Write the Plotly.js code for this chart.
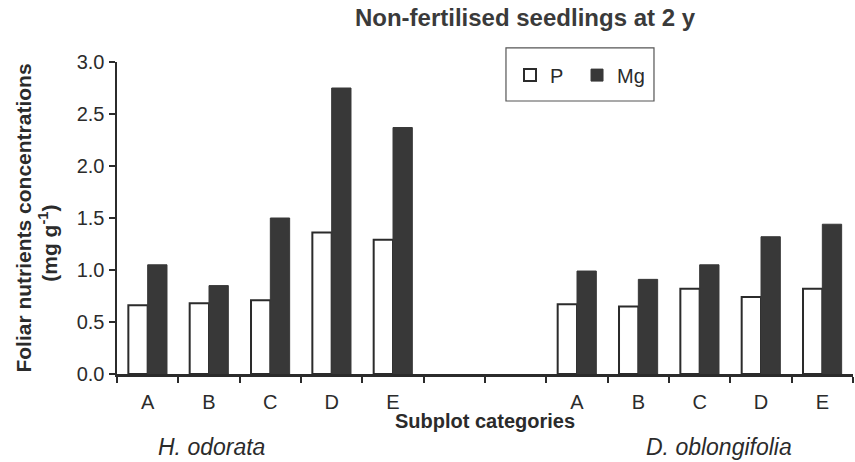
<!DOCTYPE html>
<html>
<head>
<meta charset="utf-8">
<script src="https://cdn.plot.ly/plotly-3.0.1.min.js"></script>
<style>html,body{margin:0;padding:0;background:#fff;}#chart{width:855px;height:462px;}</style>
</head>
<body>
<div id="chart"></div>
<script>
// Slots along the x axis: 5 subplots for each species, with a 2-slot gap between
const slotLabels = ["A","B","C","D","E","","","A","B","C","D","E"];
const pValues  = [0.66, 0.68, 0.71, 1.36, 1.29, null, null, 0.67, 0.65, 0.82, 0.74, 0.82];
const mgValues = [1.05, 0.85, 1.50, 2.75, 2.37, null, null, 0.99, 0.91, 1.05, 1.32, 1.44];
const speciesNames = ["<i>H. odorata</i>", "<i>D. oblongifolia</i>"];
const yTicks = [0, 0.5, 1.0, 1.5, 2.0, 2.5, 3.0];

const slotPos = slotLabels.map((_, i) => i);
const boundaries = slotLabels.map((_, i) => i - 0.5).concat([slotLabels.length - 0.5]);

const ink = "#2b2b2b";
const font = "Arial, 'Liberation Sans', Helvetica, sans-serif";

const traces = [
  {type: "bar", name: "P", x: slotPos, y: pValues,
   marker: {color: "#ffffff", line: {color: ink, width: 2}}},
  {type: "bar", name: "Mg", x: slotPos, y: mgValues,
   marker: {color: "#383838", line: {color: "#383838", width: 1}}}
];

const layout = {
  width: 855, height: 462,
  margin: {l: 117, r: 2, t: 62, b: 88},
  paper_bgcolor: "#fff", plot_bgcolor: "#fff",
  font: {family: font, color: ink},
  barmode: "group", bargap: 0.37, bargroupgap: 0,
  showlegend: true,
  title: {text: "<b>Non-fertilised seedlings at 2 y</b>", font: {size: 24, color: "#3a3a3a"},
          x: 0.614, xanchor: "center", y: 0.961, yanchor: "middle"},
  legend: {orientation: "h", x: 0.534, xanchor: "left", y: 0.958, yanchor: "middle",
           font: {size: 20, color: ink}, borderwidth: 0, bgcolor: "rgba(0,0,0,0)",
           entrywidth: 22, itemclick: false},
  xaxis: {range: [-0.5, 11.5], tickmode: "array", tickvals: slotPos, ticktext: slotLabels,
          ticks: "", tickfont: {size: 20, color: ink}, ticklabelstandoff: 8,
          minor: {tickmode: "array", tickvals: boundaries, ticks: "outside", ticklen: 6,
                  tickwidth: 2, tickcolor: ink, showgrid: false},
          showline: true, linecolor: ink, linewidth: 2.5, showgrid: false, zeroline: false,
          fixedrange: true},
  yaxis: {range: [0, 3], tickmode: "array", tickvals: yTicks, tickformat: ".1f",
          ticks: "outside", ticklen: 6, tickwidth: 2, tickcolor: ink,
          showline: true, linecolor: ink, linewidth: 2.5, showgrid: false, zeroline: false,
          tickfont: {size: 20, color: ink}, fixedrange: true,
          title: {text: "<b>Foliar nutrients concentrations</b>", font: {size: 21, color: ink}, standoff: 40}},
  shapes: [
    {type: "rect", xref: "paper", yref: "paper", x0: 0.5285, x1: 0.7296, y0: 0.875, y1: 1.045,
     line: {color: "#555", width: 1.2}, fillcolor: "rgba(0,0,0,0)"}
  ],
  annotations: [
    {text: "<b>Subplot categories</b>", xref: "paper", yref: "paper", x: 0.5, y: -0.15,
     showarrow: false, font: {size: 20, color: ink}, xanchor: "center", yanchor: "middle"},
    {text: "<b>(mg g<sup>-1</sup>)</b>", xref: "paper", yref: "paper", x: -0.094, y: 0.42,
     textangle: -90, showarrow: false, font: {size: 21, color: ink}, xanchor: "center", yanchor: "middle"},
    {text: speciesNames[0], xref: "paper", yref: "paper", x: 0.129, y: -0.234,
     showarrow: false, font: {size: 23, color: ink}, xanchor: "center", yanchor: "middle"},
    {text: speciesNames[1], xref: "paper", yref: "paper", x: 0.818, y: -0.234,
     showarrow: false, font: {size: 23, color: ink}, xanchor: "center", yanchor: "middle"}
  ]
};

Plotly.newPlot("chart", traces, layout, {displayModeBar: false, staticPlot: true});
</script>
</body>
</html>
